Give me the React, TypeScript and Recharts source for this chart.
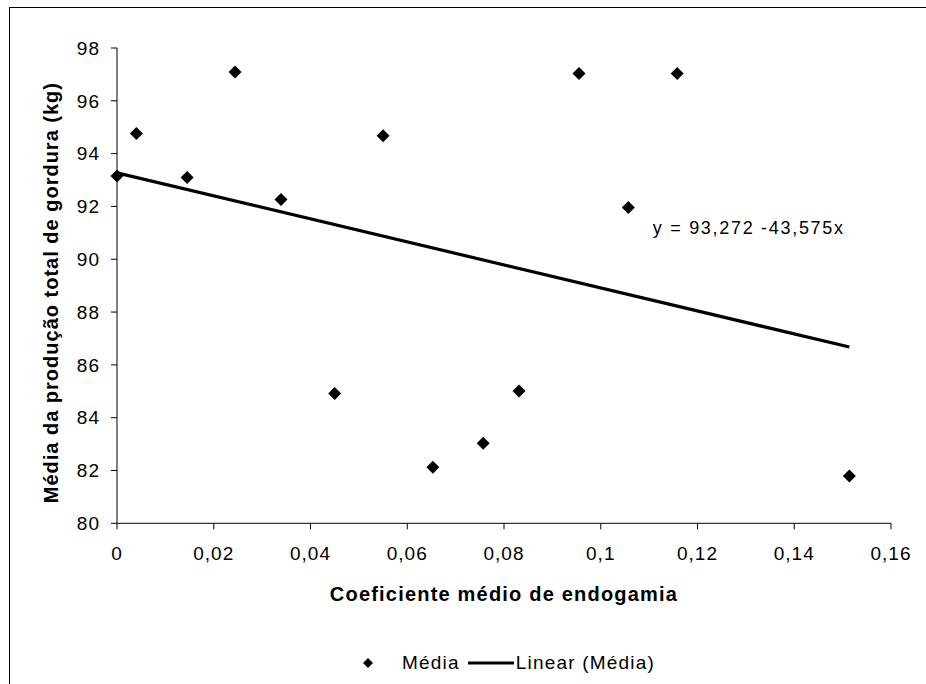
import { ScatterChart, Scatter, XAxis, YAxis, Legend, ReferenceDot } from "recharts"

// inbreeding coefficient vs mean fat yield (kg)
const inbreeding = [0, 0.004, 0.0145, 0.0244, 0.0339, 0.045, 0.055, 0.0653, 0.0757, 0.0831, 0.0955, 0.1057, 0.1158, 0.1514]
const fatMean = [93.15, 94.76, 93.1, 97.09, 92.26, 84.92, 94.68, 82.12, 83.03, 85.01, 97.03, 91.96, 97.03, 81.79]

const xTicks = [0, 0.02, 0.04, 0.06, 0.08, 0.1, 0.12, 0.14, 0.16]
const yTicks = [80, 82, 84, 86, 88, 90, 92, 94, 96, 98]

// trend line as printed on the chart
const intercept = 93.272
const slope = -43.575
const equationText = "y = 93,272 -43,575x"

const points = inbreeding.map((x, i) => ({ x, y: fatMean[i] }))
const trendX = [Math.min(...inbreeding), Math.max(...inbreeding)]
const trend = trendX.map((x) => ({ x, y: intercept + slope * x }))

const FONT = "'Liberation Sans', Arial, sans-serif"

const fmt = (v: number) => String(v).replace(".", ",")

function Diamond(props: any) {
  const { cx, cy } = props
  if (cx == null || cy == null) return <g />
  const h = 6.5
  return <polygon points={`${cx},${cy - h} ${cx + h},${cy} ${cx},${cy + h} ${cx - h},${cy}`} fill="#000" />
}

function NoShape() {
  return <g />
}

function YTitle({ viewBox }: any) {
  const x = viewBox.x + 9
  const y = viewBox.y + viewBox.height / 2 + 7
  return (
    <text
      x={x}
      y={y}
      dy="0.36em"
      transform={`rotate(-90 ${x} ${y})`}
      textAnchor="middle"
      fontFamily={FONT}
      fontWeight="bold"
      fontSize={20}
      letterSpacing={1}
      fill="#000"
    >
      Média da produção total de gordura (kg)
    </text>
  )
}

function XTitle({ viewBox }: any) {
  const x = viewBox.x + viewBox.width / 2
  const y = viewBox.y + viewBox.height
  return (
    <text x={x} y={y} textAnchor="middle" fontFamily={FONT} fontWeight="bold" fontSize={20} letterSpacing={1.2} fill="#000">
      Coeficiente médio de endogamia
    </text>
  )
}

function EquationLabel({ viewBox }: any) {
  const x = viewBox.x + viewBox.width / 2
  const y = viewBox.y + viewBox.height / 2
  return (
    <text x={x} y={y} dy="0.36em" textAnchor="middle" fontFamily={FONT} fontSize={18} letterSpacing={1.7} fill="#000">
      {equationText}
    </text>
  )
}

function LegendRow() {
  return (
    <div style={{ display: "flex", alignItems: "center", height: 30, fontFamily: FONT, fontSize: 19, letterSpacing: 1.2, color: "#000" }}>
      <svg width={12} height={12}>
        <polygon points="6,1 11,6 6,11 1,6" fill="#000" />
      </svg>
      <span style={{ marginLeft: 28 }}>Média</span>
      <svg width={46} height={4} style={{ marginLeft: 8 }}>
        <line x1={0} y1={2} x2={46} y2={2} stroke="#000" strokeWidth={3} />
      </svg>
      <span style={{ marginLeft: 2 }}>Linear (Média)</span>
    </div>
  )
}

export default function App() {
  const tickStyle = { fill: "#000", fontSize: 19, fontFamily: FONT, letterSpacing: 1 }
  return (
    <div style={{ position: "absolute", left: 0, top: 0, width: 926, height: 684, overflow: "hidden", background: "#fff" }}>
      <div style={{ position: "absolute", left: 9, top: 7, width: 940, height: 700, border: "1px solid #000" }} />
      <ScatterChart width={926} height={684} margin={{ top: 48, right: 35, bottom: 52.7, left: 42 }}>
        <XAxis
          type="number"
          dataKey="x"
          domain={[0, 0.16]}
          ticks={xTicks}
          tickFormatter={fmt}
          tickSize={6}
          tickMargin={17}
          height={78}
          axisLine={{ stroke: "#000" }}
          tickLine={{ stroke: "#000" }}
          tick={tickStyle}
          label={<XTitle />}
        />
        <YAxis
          type="number"
          dataKey="y"
          domain={[80, 98]}
          ticks={yTicks}
          tickSize={6}
          tickMargin={11}
          width={75}
          axisLine={{ stroke: "#000" }}
          tickLine={{ stroke: "#000" }}
          tick={tickStyle}
          label={<YTitle />}
        />
        <Legend
          verticalAlign="bottom"
          wrapperStyle={{ top: 648, bottom: "auto", left: 362, width: 320, height: 30 }}
          content={() => <LegendRow />}
        />
        <Scatter
          name="Linear (Média)"
          data={trend}
          line={{ stroke: "#000", strokeWidth: 3.2 }}
          shape={<NoShape />}
          isAnimationActive={false}
        />
        <Scatter name="Média" data={points} shape={<Diamond />} isAnimationActive={false} />
        <ReferenceDot x={0.1306} y={91.2} r={1} fill="none" stroke="none" label={<EquationLabel />} />
      </ScatterChart>
    </div>
  )
}
